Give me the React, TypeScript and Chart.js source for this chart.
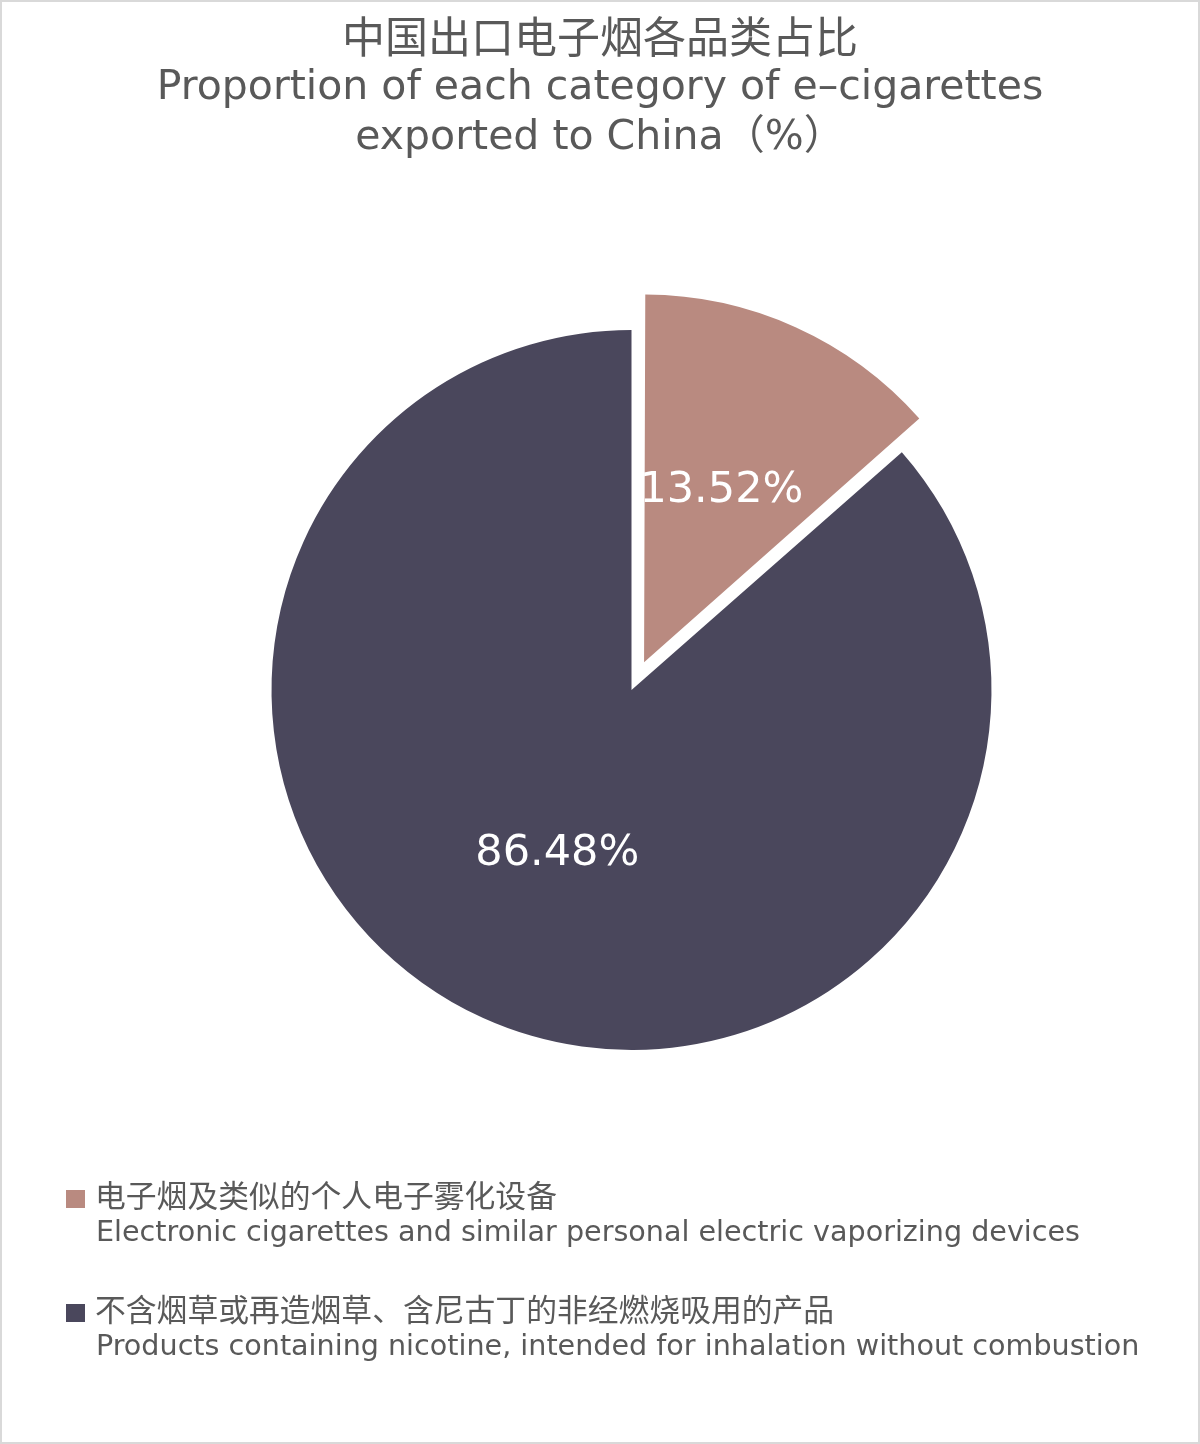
import { useEffect, useRef } from "react";
import { Chart, ArcElement, PieController, Plugin } from "chart.js";

Chart.register(ArcElement, PieController);

// chart values
const titleZh = "中国出口电子烟各品类占比";
const titleEn = ["Proportion of each category of e–cigarettes", "exported to China（%）"];
const labelsZh = ["电子烟及类似的个人电子雾化设备", "不含烟草或再造烟草、含尼古丁的非经燃烧吸用的产品"];
const labelsEn = [
  "Electronic cigarettes and similar personal electric vaporizing devices",
  "Products containing nicotine, intended for inhalation without combustion",
];
const shares = [13.52, 86.48];
const sliceColors = ["#b98a80", "#4a475c"];

const FONT = "'DejaVu Sans', 'Noto Sans CJK SC', sans-serif";
const FONT_ZH = "'Noto Sans CJK SC', sans-serif";
const TEXT_GRAY = "#595959";

// white page, thin grey frame and the three title lines
const framePlugin: Plugin<"pie"> = {
  id: "frame",
  beforeDraw(chart) {
    const { ctx, width, height } = chart;
    ctx.save();
    ctx.fillStyle = "#ffffff";
    ctx.fillRect(0, 0, width, height);
    ctx.strokeStyle = "#d9d9d9";
    ctx.lineWidth = 2;
    ctx.strokeRect(1, 1, width - 2, height - 2);

    ctx.fillStyle = TEXT_GRAY;
    ctx.textAlign = "center";
    ctx.textBaseline = "middle";
    ctx.font = `43px ${FONT_ZH}`;
    ctx.fillText(titleZh, width / 2, 37);
    ctx.font = `41px ${FONT}`;
    titleEn.forEach((line, i) => ctx.fillText(line, width / 2, 88 + i * 50));
    ctx.restore();
  },
};

// percentage labels in the middle of each slice (follows the slice offset)
const sliceLabelPlugin: Plugin<"pie"> = {
  id: "sliceLabels",
  afterDatasetsDraw(chart) {
    const { ctx } = chart;
    const meta = chart.getDatasetMeta(0);
    ctx.save();
    ctx.fillStyle = "#ffffff";
    ctx.font = `43px ${FONT}`;
    ctx.textAlign = "center";
    ctx.textBaseline = "middle";
    meta.data.forEach((el: any, i) => {
      const { x, y, startAngle, endAngle, outerRadius, circumference } = el.getProps(
        ["x", "y", "startAngle", "endAngle", "outerRadius", "circumference"],
        true
      );
      const mid = (startAngle + endAngle) / 2;
      const off = (el.options.offset || 0) / 4;
      const fix = 1 - Math.sin(Math.min(Math.PI, circumference || 0));
      const r = outerRadius / 2 + off + off * fix;
      ctx.fillText(`${shares[i].toFixed(2)}%`, x + Math.cos(mid) * r, y + Math.sin(mid) * r);
    });
    ctx.restore();
  },
};

// two-line legend at the bottom left
const legendPlugin: Plugin<"pie"> = {
  id: "bilingualLegend",
  afterDraw(chart) {
    const { ctx } = chart;
    ctx.save();
    ctx.textBaseline = "middle";
    ctx.textAlign = "left";
    labelsZh.forEach((zh, i) => {
      const y0 = 1198 + i * 114;
      ctx.fillStyle = sliceColors[i];
      ctx.fillRect(66, y0 - 8, 19, 18);
      ctx.fillStyle = TEXT_GRAY;
      ctx.font = `30.8px ${FONT_ZH}`;
      ctx.fillText(zh, 95, y0 - 3);
      ctx.font = `28.6px ${FONT}`;
      ctx.fillText(labelsEn[i], 96, y0 + 36);
    });
    ctx.restore();
  },
};

export default function App() {
  const canvasRef = useRef<HTMLCanvasElement | null>(null);

  useEffect(() => {
    document.body.style.margin = "0";
    if (!canvasRef.current) return;
    const chart = new Chart(canvasRef.current, {
      type: "pie",
      data: {
        labels: labelsEn,
        datasets: [
          {
            data: shares,
            backgroundColor: sliceColors,
            borderWidth: 0,
            offset: [122, 0],
          },
        ],
      },
      options: {
        responsive: false,
        animation: false,
        events: [],
        radius: 360,
        layout: { padding: { left: 63, right: 0, top: 172, bottom: 236 } },
        plugins: {
          legend: { display: false },
          tooltip: { enabled: false },
        },
      },
      plugins: [framePlugin, sliceLabelPlugin, legendPlugin],
    });
    return () => chart.destroy();
  }, []);

  return <canvas ref={canvasRef} width={1200} height={1444} style={{ display: "block" }} />;
}
